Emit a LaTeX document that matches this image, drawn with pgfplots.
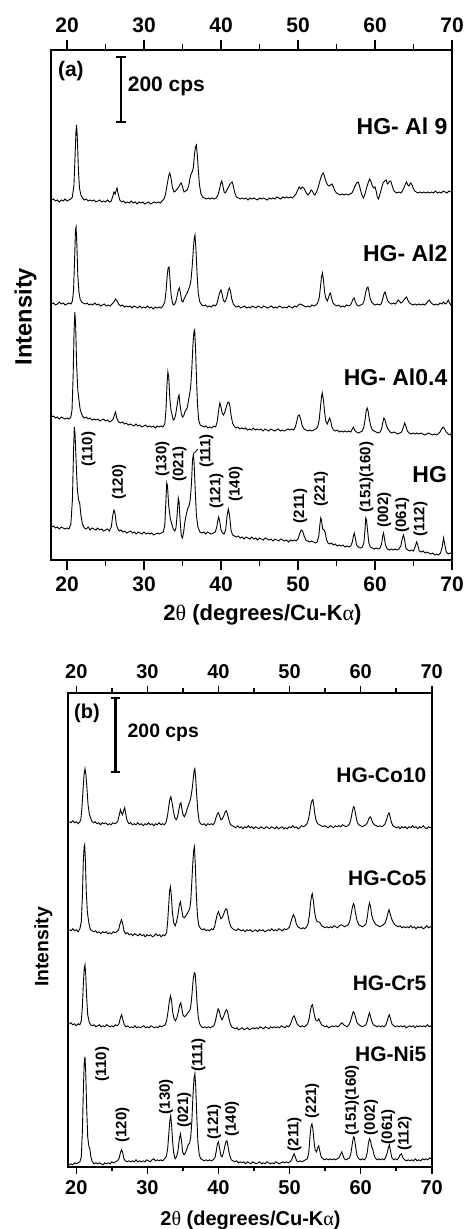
\documentclass[border=0pt]{standalone}
\usepackage{fontspec}
\setmainfont{Liberation Sans}
\newfontfamily\symfont{Liberation Serif}
\usepackage{pgfplots}
\pgfplotsset{compat=1.18}

\pgfplotsset{
  xrd/.style={black, line width=0.45pt, no markers},
  panel/.style={scale only axis, anchor=north west, xmax=70, ymin=0,
    xtick={20,30,...,70}, minor x tick num=1, ytick=\empty,
    tick align=outside, axis line style={line width=0.9pt},
    every tick/.style={black, line width=0.8pt},
    /pgf/number format/assume math mode=true},
  panelA/.style={panel, at={(25.5pt,-25pt)}, width=200.5pt, height=255pt,
    xmin=17.92, ymax=510, major tick length=5pt, minor tick length=3pt,
    tick label style={font=\fontsize{10.5}{12}\selectfont\bfseries}},
  panelB/.style={panel, at={(34.15pt,-346.35pt)}, width=181.7pt, height=237pt,
    xmin=18.87, ymax=474, major tick length=3.4pt, minor tick length=2.2pt,
    tick label style={font=\fontsize{10}{12}\selectfont\bfseries}},
  toponly/.style={axis x line*=top, axis y line=none, xticklabel pos=upper},
}
\tikzset{
  hklA/.style={rotate=90, font=\fontsize{7.5}{9}\selectfont\bfseries, inner sep=0pt},
  nameA/.style={anchor=base east, font=\fontsize{11.5}{13}\selectfont\bfseries, inner sep=0pt},
  nameB/.style={anchor=base east, font=\fontsize{10.5}{12}\selectfont\bfseries, inner sep=0pt},
}

\begin{document}
\begin{tikzpicture}
\useasboundingbox (0pt,0pt) rectangle (233pt,-614.5pt);

% ---------------- panel (a) ----------------
\begin{axis}[panelA, xticklabel pos=lower]
% HG
\addplot[xrd] coordinates {
(18.0,33)(18.25,34)(18.5,32)(18.75,33)(19.0,31)(19.25,33)(19.5,32)(19.75,31)(20.0,32)(20.25,31)(20.5,36)(20.7,60)(20.85,110)(20.95,133)(21.05,125)(21.2,95)(21.35,70)(21.5,60)(21.65,57)(21.8,45)(22.0,36)(22.25,32)(22.5,31)(22.75,33)(23.0,30)(23.25,32)(23.5,31)(23.75,30)(24.0,32)(24.25,30)(24.5,31)(24.75,29)(25.0,30)(25.25,31)(25.5,29)(25.75,33)(25.95,45)(26.1,50)(26.25,46)(26.4,36)(26.6,31)(26.8,29)(27.0,30)(27.25,28)(27.5,29)(27.75,27)(28.0,28)(28.25,29)(28.5,27)(28.75,28)(29.0,26)(29.25,28)(29.5,27)(29.75,26)(30.0,28)(30.25,26)(30.5,27)(30.75,26)(31.0,27)(31.25,25)(31.5,26)(31.75,27)(32.0,26)(32.25,27)(32.5,28)(32.7,35)(32.85,60)(32.95,77)(33.05,74)(33.2,55)(33.4,42)(33.6,36)(33.8,31)(34.0,29)(34.15,32)(34.3,45)(34.45,62)(34.55,58)(34.7,38)(34.85,24)(35.0,22)(35.15,28)(35.3,38)(35.5,46)(35.7,52)(35.85,54)(36.0,60)(36.15,75)(36.3,100)(36.4,105)(36.5,98)(36.65,70)(36.8,45)(37.0,33)(37.25,28)(37.5,27)(37.75,28)(38.0,26)(38.25,28)(38.5,27)(38.75,26)(39.0,27)(39.25,28)(39.45,33)(39.6,40)(39.7,43)(39.85,38)(40.0,30)(40.2,27)(40.4,26)(40.6,30)(40.8,45)(40.95,51)(41.1,45)(41.3,30)(41.5,25)(41.75,24)(42.0,23)(42.25,24)(42.5,22)(42.75,23)(43.0,21)(43.25,23)(43.5,22)(43.75,21)(44.0,23)(44.25,21)(44.5,22)(44.75,20)(45.0,22)(45.25,21)(45.5,20)(45.75,22)(46.0,21)(46.25,20)(46.5,21)(46.75,19)(47.0,21)(47.25,20)(47.5,19)(47.75,21)(48.0,20)(48.25,19)(48.5,20)(48.75,18)(49.0,20)(49.25,19)(49.5,20)(49.75,19)(50.0,21)(50.2,26)(50.4,30)(50.6,29)(50.8,24)(51.0,20)(51.25,19)(51.5,18)(51.75,19)(52.0,18)(52.25,17)(52.5,18)(52.7,24)(52.85,36)(52.95,42)(53.05,40)(53.2,31)(53.4,30)(53.55,27)(53.7,20)(53.9,17)(54.1,16)(54.35,17)(54.6,15)(54.85,16)(55.1,14)(55.35,15)(55.6,14)(55.85,15)(56.1,13)(56.35,14)(56.6,13)(56.85,14)(57.05,18)(57.2,24)(57.3,27)(57.45,22)(57.6,15)(57.85,13)(58.1,12)(58.35,13)(58.55,17)(58.7,30)(58.8,42)(58.9,40)(59.05,28)(59.2,17)(59.4,13)(59.65,12)(59.9,11)(60.15,12)(60.4,11)(60.65,12)(60.85,16)(61.0,24)(61.1,27)(61.2,23)(61.35,15)(61.6,11)(61.85,10)(62.1,11)(62.35,10)(62.6,11)(62.85,10)(63.1,11)(63.35,14)(63.55,22)(63.7,25)(63.85,20)(64.0,12)(64.25,10)(64.5,9)(64.75,10)(65.0,9)(65.2,13)(65.4,18)(65.55,15)(65.75,9)(66.0,8)(66.25,9)(66.5,7)(66.75,8)(67.0,7)(67.25,6)(67.5,7)(67.75,5)(68.0,6)(68.25,5)(68.5,7)(68.7,12)(68.9,22)(69.05,16)(69.25,8)(69.5,6)(69.75,7)(70.0,6)
};
% HG-Al0.4
\addplot[xrd] coordinates {
(18.0,143)(18.25,144)(18.5,142)(18.75,143)(19.0,141)(19.25,143)(19.5,142)(19.75,141)(20.0,142)(20.25,141)(20.5,143)(20.65,150)(20.8,185)(20.92,230)(21.02,248)(21.12,235)(21.25,195)(21.4,170)(21.55,160)(21.7,151)(21.85,147)(22.0,144)(22.25,142)(22.5,143)(22.75,141)(23.0,142)(23.25,140)(23.5,141)(23.75,140)(24.0,141)(24.25,139)(24.5,140)(24.75,141)(25.0,139)(25.25,140)(25.5,138)(25.75,139)(26.0,141)(26.15,145)(26.3,148)(26.45,142)(26.7,138)(26.95,137)(27.2,138)(27.45,136)(27.7,137)(27.95,135)(28.2,136)(28.45,135)(28.7,134)(28.95,136)(29.2,134)(29.45,135)(29.7,133)(29.95,134)(30.2,135)(30.45,133)(30.7,134)(30.95,133)(31.2,134)(31.45,132)(31.7,134)(31.95,133)(32.2,134)(32.45,133)(32.7,136)(32.85,150)(32.98,175)(33.1,188)(33.22,182)(33.35,162)(33.5,150)(33.65,145)(33.8,140)(33.95,141)(34.1,145)(34.3,155)(34.45,163)(34.55,165)(34.68,155)(34.85,146)(35.0,143)(35.15,144)(35.3,148)(35.45,150)(35.6,152)(35.75,158)(35.9,165)(36.05,172)(36.2,190)(36.35,215)(36.48,228)(36.58,230)(36.7,210)(36.82,180)(36.95,155)(37.1,140)(37.3,135)(37.55,134)(37.8,133)(38.05,134)(38.3,132)(38.55,133)(38.8,132)(39.05,134)(39.3,133)(39.5,138)(39.7,150)(39.85,157)(40.0,153)(40.15,147)(40.3,145)(40.45,147)(40.65,152)(40.85,157)(41.0,158)(41.15,154)(41.3,145)(41.5,137)(41.7,134)(41.95,132)(42.2,133)(42.45,131)(42.7,132)(42.95,131)(43.2,132)(43.45,130)(43.7,131)(43.95,130)(44.2,132)(44.45,130)(44.7,131)(44.95,130)(45.2,131)(45.45,129)(45.7,131)(45.95,130)(46.2,129)(46.45,131)(46.7,130)(46.95,129)(47.2,130)(47.45,131)(47.7,129)(47.95,130)(48.2,129)(48.45,130)(48.7,131)(48.95,130)(49.2,131)(49.45,130)(49.65,133)(49.85,139)(50.0,144)(50.15,145)(50.35,141)(50.55,134)(50.8,131)(51.05,130)(51.3,129)(51.55,130)(51.8,129)(52.05,130)(52.3,131)(52.55,133)(52.75,140)(52.9,152)(53.05,163)(53.15,167)(53.3,160)(53.45,148)(53.6,139)(53.8,136)(53.95,139)(54.1,142)(54.25,139)(54.4,133)(54.6,130)(54.85,129)(55.1,130)(55.35,128)(55.6,129)(55.85,128)(56.1,129)(56.35,128)(56.6,129)(56.85,128)(57.05,131)(57.2,133)(57.35,130)(57.6,128)(57.85,127)(58.1,128)(58.35,129)(58.55,133)(58.7,140)(58.85,149)(58.98,152)(59.1,149)(59.25,141)(59.45,134)(59.65,130)(59.9,129)(60.15,128)(60.4,127)(60.65,128)(60.85,131)(61.0,137)(61.15,142)(61.3,140)(61.5,134)(61.7,131)(61.95,128)(62.2,127)(62.45,128)(62.7,127)(62.95,126)(63.2,127)(63.45,128)(63.65,132)(63.85,137)(64.0,134)(64.2,129)(64.45,127)(64.7,126)(64.95,127)(65.2,126)(65.45,127)(65.7,126)(65.95,127)(66.2,126)(66.45,125)(66.7,126)(66.95,127)(67.2,126)(67.45,125)(67.7,126)(67.95,125)(68.2,126)(68.45,128)(68.65,131)(68.85,133)(69.05,131)(69.25,128)(69.5,126)(69.75,125)(70.0,127)
};
% HG-Al2
\addplot[xrd] coordinates {
(18.0,256)(18.25,257)(18.5,255)(18.75,256)(19.0,258)(19.25,256)(19.5,257)(19.75,255)(20.0,256)(20.25,257)(20.5,256)(20.7,259)(20.85,270)(20.98,300)(21.1,330)(21.18,333)(21.28,315)(21.4,285)(21.55,268)(21.7,261)(21.9,258)(22.1,257)(22.35,256)(22.6,257)(22.85,255)(23.1,256)(23.35,255)(23.6,257)(23.85,255)(24.1,256)(24.35,254)(24.6,255)(24.85,256)(25.1,254)(25.35,255)(25.6,254)(25.85,256)(26.1,258)(26.3,261)(26.5,259)(26.7,256)(26.95,254)(27.2,255)(27.45,253)(27.7,254)(27.95,253)(28.2,254)(28.45,252)(28.7,254)(28.95,253)(29.2,252)(29.45,254)(29.7,252)(29.95,253)(30.2,252)(30.45,254)(30.7,252)(30.95,253)(31.2,251)(31.45,253)(31.7,252)(31.95,253)(32.2,252)(32.45,254)(32.7,258)(32.85,268)(33.0,283)(33.12,292)(33.25,293)(33.38,280)(33.52,265)(33.7,257)(33.85,255)(34.0,256)(34.15,259)(34.3,264)(34.45,270)(34.6,272)(34.75,266)(34.9,259)(35.05,258)(35.2,261)(35.4,264)(35.6,267)(35.8,271)(35.95,274)(36.1,280)(36.25,293)(36.4,310)(36.52,322)(36.62,325)(36.75,310)(36.9,285)(37.05,266)(37.25,258)(37.5,255)(37.75,254)(38.0,255)(38.25,253)(38.5,254)(38.75,253)(39.0,255)(39.25,254)(39.45,256)(39.65,262)(39.85,268)(40.0,270)(40.15,266)(40.3,260)(40.45,258)(40.6,259)(40.8,264)(40.95,270)(41.1,272)(41.25,268)(41.4,261)(41.6,256)(41.8,254)(42.05,253)(42.3,254)(42.55,252)(42.8,253)(43.05,254)(43.3,252)(43.55,253)(43.8,252)(44.05,254)(44.3,253)(44.55,252)(44.8,254)(45.05,253)(45.3,252)(45.55,254)(45.8,253)(46.05,252)(46.3,253)(46.55,254)(46.8,252)(47.05,253)(47.3,252)(47.55,254)(47.8,253)(48.05,252)(48.3,253)(48.55,252)(48.8,254)(49.05,253)(49.3,252)(49.55,254)(49.8,253)(50.05,255)(50.3,256)(50.55,255)(50.8,254)(51.05,253)(51.3,254)(51.55,253)(51.8,255)(52.05,254)(52.3,255)(52.55,257)(52.75,262)(52.9,272)(53.05,283)(53.18,287)(53.3,280)(53.45,268)(53.6,262)(53.8,259)(53.95,262)(54.1,266)(54.22,267)(54.35,262)(54.55,257)(54.8,255)(55.05,254)(55.3,255)(55.55,253)(55.8,254)(56.05,253)(56.3,255)(56.55,254)(56.8,255)(57.0,258)(57.15,261)(57.3,262)(57.45,258)(57.65,255)(57.9,254)(58.15,255)(58.4,256)(58.6,260)(58.8,268)(58.95,272)(59.08,273)(59.2,269)(59.35,262)(59.55,258)(59.8,256)(60.05,255)(60.3,256)(60.55,255)(60.8,256)(61.0,261)(61.15,266)(61.3,268)(61.45,264)(61.65,259)(61.9,257)(62.15,256)(62.4,257)(62.65,256)(62.85,258)(63.0,260)(63.15,259)(63.35,257)(63.55,258)(63.75,260)(63.95,262)(64.1,263)(64.25,260)(64.45,257)(64.7,256)(64.95,255)(65.2,256)(65.45,255)(65.7,256)(65.95,255)(66.2,256)(66.45,255)(66.7,257)(66.9,259)(67.05,260)(67.2,258)(67.45,256)(67.7,255)(67.95,256)(68.2,255)(68.45,257)(68.7,256)(68.9,258)(69.1,256)(69.3,257)(69.5,260)(69.7,257)(69.85,255)(70.0,257)
};
% HG-Al 9
\addplot[xrd] coordinates {
(18.0,360)(18.25,361)(18.5,359)(18.75,360)(19.0,358)(19.25,360)(19.5,359)(19.75,361)(20.0,359)(20.25,360)(20.5,361)(20.7,363)(20.9,375)(21.05,405)(21.17,430)(21.25,435)(21.35,420)(21.48,390)(21.62,372)(21.8,365)(22.0,362)(22.25,360)(22.5,361)(22.75,359)(23.0,360)(23.25,359)(23.5,360)(23.75,358)(24.0,359)(24.25,360)(24.5,358)(24.75,359)(25.0,358)(25.25,360)(25.5,358)(25.75,359)(25.95,364)(26.1,368)(26.25,366)(26.4,370)(26.5,372)(26.65,366)(26.85,360)(27.1,358)(27.35,359)(27.6,357)(27.85,358)(28.1,357)(28.35,359)(28.6,357)(28.85,358)(29.1,356)(29.35,358)(29.6,357)(29.85,358)(30.1,356)(30.35,357)(30.6,358)(30.85,356)(31.1,357)(31.35,358)(31.6,357)(31.85,358)(32.1,357)(32.35,359)(32.6,361)(32.8,366)(33.0,375)(33.2,384)(33.35,387)(33.5,382)(33.7,372)(33.9,368)(34.1,369)(34.3,371)(34.5,373)(34.7,376)(34.85,377)(35.0,373)(35.2,368)(35.4,369)(35.6,370)(35.8,374)(35.95,381)(36.1,386)(36.25,388)(36.4,392)(36.55,405)(36.68,413)(36.8,415)(36.92,405)(37.05,390)(37.2,375)(37.4,366)(37.6,363)(37.85,362)(38.1,361)(38.35,362)(38.6,361)(38.85,362)(39.1,361)(39.35,362)(39.55,364)(39.75,369)(39.95,376)(40.1,379)(40.25,374)(40.4,368)(40.55,367)(40.7,369)(40.9,372)(41.1,375)(41.3,377)(41.45,378)(41.6,374)(41.8,367)(42.0,363)(42.25,362)(42.5,361)(42.75,362)(43.0,361)(43.25,362)(43.5,360)(43.75,362)(44.0,361)(44.25,362)(44.5,361)(44.75,360)(45.0,362)(45.25,361)(45.5,362)(45.75,361)(46.0,360)(46.25,362)(46.5,361)(46.75,362)(47.0,361)(47.25,363)(47.5,362)(47.75,361)(48.0,363)(48.25,362)(48.5,363)(48.75,362)(49.0,363)(49.25,362)(49.5,364)(49.75,366)(49.95,370)(50.15,373)(50.35,371)(50.55,373)(50.75,372)(50.95,369)(51.15,366)(51.3,365)(51.5,367)(51.7,370)(51.85,369)(52.05,366)(52.2,365)(52.4,368)(52.6,372)(52.8,378)(53.0,383)(53.15,386)(53.3,387)(53.45,383)(53.65,378)(53.85,375)(54.0,374)(54.2,375)(54.4,376)(54.6,373)(54.8,369)(55.0,367)(55.25,366)(55.5,365)(55.75,366)(56.0,365)(56.25,366)(56.5,365)(56.75,366)(57.0,367)(57.2,370)(57.4,374)(57.6,377)(57.8,378)(57.95,375)(58.15,369)(58.35,364)(58.5,362)(58.7,366)(58.9,372)(59.1,377)(59.3,381)(59.45,379)(59.65,374)(59.85,372)(60.0,373)(60.15,369)(60.3,363)(60.45,361)(60.65,366)(60.85,372)(61.05,377)(61.25,379)(61.45,380)(61.6,376)(61.75,377)(61.9,379)(62.05,379)(62.2,375)(62.4,370)(62.6,368)(62.85,367)(63.1,368)(63.35,367)(63.55,369)(63.75,372)(63.95,376)(64.1,378)(64.25,375)(64.4,374)(64.6,377)(64.75,376)(64.95,372)(65.15,369)(65.35,368)(65.6,367)(65.85,368)(66.1,367)(66.35,368)(66.6,367)(66.85,368)(67.1,367)(67.35,368)(67.6,367)(67.85,369)(68.1,367)(68.35,368)(68.6,367)(68.85,369)(69.1,368)(69.35,367)(69.6,369)(69.85,368)(70.0,368)
};
% scale bar
\draw[line width=1.4pt] (axis cs:27.0,438) -- (axis cs:27.0,503);
\draw[line width=1pt] (axis cs:26.4,503) -- (axis cs:27.6,503);
\draw[line width=1pt] (axis cs:26.4,438) -- (axis cs:27.6,438);
\node[anchor=west, inner sep=0pt, font=\fontsize{10.5}{12}\selectfont\bfseries] at (axis cs:27.85,474) {200 cps};
\node[font=\fontsize{10.5}{12}\selectfont\bfseries] at (axis cs:20.5,489) {(a)};
% sample names
\node[nameA] at (axis cs:69.45,425) {HG- Al 9};
\node[nameA] at (axis cs:69.45,298) {HG- Al2};
\node[nameA] at (axis cs:69.45,175) {HG- Al0.4};
\node[nameA] at (axis cs:69.4,78) {HG};
% Miller indices
\node[hklA] at (axis cs:22.8,111) {(110)};
\node[hklA] at (axis cs:26.75,78) {(120)};
\node[hklA] at (axis cs:32.4,101) {(130)};
\node[hklA] at (axis cs:34.6,96) {(021)};
\node[hklA] at (axis cs:38.1,109) {(111)};
\node[hklA] at (axis cs:39.4,69) {(121)};
\node[hklA] at (axis cs:41.9,76) {(140)};
\node[hklA] at (axis cs:50.3,54) {(211)};
\node[hklA] at (axis cs:53.0,71) {(221)};
\node[hklA] at (axis cs:58.9,83) {(151)(160)};
\node[hklA] at (axis cs:61.2,50) {(002)};
\node[hklA] at (axis cs:63.55,45) {(061)};
\node[hklA] at (axis cs:65.9,41) {(112)};
\draw[line width=0.4pt] (axis cs:36.55,107) -- (axis cs:37.0,111);
\end{axis}
\begin{axis}[panelA, toponly]
\end{axis}

% ---------------- panel (b) ----------------
\begin{axis}[panelB, xticklabel pos=lower]
% HG-Ni5
\addplot[xrd] coordinates {
(19.0,2)(19.25,3)(19.5,2)(19.75,4)(20.0,3)(20.25,4)(20.5,5)(20.7,10)(20.85,35)(21.0,80)(21.12,105)(21.22,110)(21.32,95)(21.45,60)(21.6,30)(21.75,21)(21.9,18)(22.05,10)(22.25,5)(22.5,3)(22.75,4)(23.0,3)(23.25,4)(23.5,3)(23.75,2)(24.0,4)(24.25,3)(24.5,4)(24.75,3)(25.0,5)(25.25,4)(25.5,5)(25.75,6)(26.0,8)(26.2,14)(26.35,17)(26.5,15)(26.7,8)(26.9,6)(27.15,5)(27.4,6)(27.65,5)(27.9,6)(28.15,5)(28.4,7)(28.65,5)(28.9,6)(29.15,5)(29.4,6)(29.65,5)(29.9,7)(30.15,6)(30.4,5)(30.65,7)(30.9,8)(31.15,6)(31.4,7)(31.65,6)(31.9,7)(32.15,6)(32.4,8)(32.65,10)(32.85,18)(33.0,32)(33.15,46)(33.28,51)(33.4,42)(33.55,25)(33.7,14)(33.9,8)(34.1,10)(34.3,16)(34.5,28)(34.65,33)(34.8,26)(34.95,15)(35.15,12)(35.35,14)(35.55,18)(35.75,22)(35.95,24)(36.1,30)(36.25,45)(36.4,70)(36.55,88)(36.68,93)(36.8,80)(36.95,50)(37.1,25)(37.3,12)(37.5,8)(37.75,7)(38.0,6)(38.25,7)(38.5,6)(38.75,7)(39.0,6)(39.25,7)(39.5,9)(39.7,16)(39.85,23)(40.0,25)(40.15,19)(40.35,11)(40.5,10)(40.7,14)(40.9,21)(41.05,25)(41.2,26)(41.35,20)(41.55,12)(41.8,7)(42.05,6)(42.3,5)(42.55,6)(42.8,4)(43.05,5)(43.3,4)(43.55,5)(43.8,3)(44.05,5)(44.3,4)(44.55,3)(44.8,5)(45.05,4)(45.3,3)(45.55,4)(45.8,5)(46.05,3)(46.3,4)(46.55,3)(46.8,5)(47.05,4)(47.3,3)(47.55,4)(47.8,3)(48.05,5)(48.3,4)(48.55,3)(48.8,4)(49.05,5)(49.3,4)(49.55,5)(49.8,4)(50.05,5)(50.3,7)(50.5,11)(50.65,13)(50.8,10)(51.0,6)(51.25,5)(51.5,6)(51.75,5)(52.0,6)(52.25,7)(52.5,8)(52.7,14)(52.85,28)(53.0,40)(53.15,43)(53.3,37)(53.45,25)(53.6,17)(53.8,15)(53.95,19)(54.1,21)(54.25,16)(54.45,10)(54.7,8)(54.95,7)(55.2,8)(55.45,7)(55.7,8)(55.95,7)(56.2,8)(56.45,7)(56.7,8)(56.95,9)(57.15,12)(57.35,15)(57.5,12)(57.7,8)(57.95,7)(58.2,8)(58.45,9)(58.65,14)(58.85,24)(59.0,30)(59.12,29)(59.3,20)(59.5,11)(59.75,8)(60.0,7)(60.25,8)(60.5,7)(60.75,9)(60.95,15)(61.1,24)(61.25,28)(61.4,26)(61.55,20)(61.7,18)(61.85,13)(62.05,9)(62.3,7)(62.55,8)(62.8,7)(63.05,8)(63.3,7)(63.5,9)(63.7,13)(63.9,19)(64.05,22)(64.2,16)(64.4,9)(64.65,7)(64.9,8)(65.15,7)(65.35,9)(65.55,12)(65.75,13)(65.95,9)(66.2,7)(66.45,6)(66.7,7)(66.95,6)(67.2,7)(67.45,6)(67.7,8)(67.95,6)(68.2,7)(68.45,6)(68.7,8)(68.95,7)(69.2,8)(69.45,7)(69.7,9)(70.0,8)
};
% HG-Cr5
\addplot[xrd] coordinates {
(19.0,143)(19.25,144)(19.5,142)(19.75,143)(20.0,141)(20.25,143)(20.5,142)(20.7,146)(20.85,160)(21.0,185)(21.12,199)(21.22,202)(21.32,192)(21.45,170)(21.6,152)(21.8,145)(22.0,142)(22.25,141)(22.5,142)(22.75,140)(23.0,141)(23.25,142)(23.5,140)(23.75,141)(24.0,140)(24.25,142)(24.5,141)(24.75,140)(25.0,141)(25.25,140)(25.5,142)(25.75,141)(26.0,143)(26.2,149)(26.38,152)(26.55,147)(26.75,142)(27.0,140)(27.25,141)(27.5,139)(27.75,140)(28.0,139)(28.25,141)(28.5,139)(28.75,140)(29.0,139)(29.25,140)(29.5,141)(29.75,139)(30.0,140)(30.25,139)(30.5,141)(30.75,140)(31.0,139)(31.25,140)(31.5,139)(31.75,141)(32.0,140)(32.25,141)(32.5,142)(32.7,146)(32.9,155)(33.1,166)(33.25,171)(33.4,166)(33.55,155)(33.75,148)(33.95,146)(34.15,149)(34.35,155)(34.55,162)(34.7,164)(34.85,158)(35.0,152)(35.2,150)(35.4,151)(35.6,153)(35.8,155)(36.0,157)(36.15,163)(36.3,175)(36.45,188)(36.6,194)(36.72,193)(36.85,180)(37.0,162)(37.15,150)(37.35,143)(37.6,140)(37.85,139)(38.1,140)(38.35,139)(38.6,140)(38.85,139)(39.1,140)(39.35,141)(39.55,145)(39.75,152)(39.95,158)(40.1,156)(40.3,150)(40.5,147)(40.7,150)(40.9,154)(41.1,157)(41.25,156)(41.45,149)(41.65,143)(41.85,140)(42.1,139)(42.35,138)(42.6,139)(42.85,137)(43.1,138)(43.35,139)(43.6,137)(43.85,138)(44.1,139)(44.35,137)(44.6,138)(44.85,139)(45.1,138)(45.35,139)(45.6,138)(45.85,140)(46.1,139)(46.35,138)(46.6,140)(46.85,139)(47.1,138)(47.35,140)(47.6,139)(47.85,140)(48.1,139)(48.35,140)(48.6,139)(48.85,141)(49.1,140)(49.35,139)(49.6,141)(49.85,140)(50.1,142)(50.3,146)(50.5,150)(50.65,151)(50.85,147)(51.05,143)(51.3,141)(51.55,140)(51.8,141)(52.05,140)(52.3,141)(52.55,143)(52.75,148)(52.95,157)(53.1,161)(53.22,162)(53.35,157)(53.55,150)(53.75,146)(53.95,146)(54.1,148)(54.3,145)(54.5,142)(54.75,141)(55.0,140)(55.25,141)(55.5,139)(55.75,140)(56.0,141)(56.25,140)(56.5,141)(56.75,140)(57.0,141)(57.2,143)(57.4,144)(57.6,142)(57.85,141)(58.1,140)(58.35,142)(58.55,145)(58.75,150)(58.95,155)(59.1,154)(59.3,149)(59.5,144)(59.75,142)(60.0,141)(60.25,140)(60.5,141)(60.75,142)(60.95,146)(61.1,151)(61.25,154)(61.4,150)(61.6,145)(61.8,142)(62.05,141)(62.3,140)(62.55,141)(62.8,140)(63.05,141)(63.3,140)(63.55,142)(63.75,146)(63.95,151)(64.05,152)(64.2,148)(64.4,143)(64.65,141)(64.9,140)(65.15,141)(65.4,140)(65.65,141)(65.9,140)(66.15,141)(66.4,139)(66.65,140)(66.9,141)(67.15,140)(67.4,141)(67.65,139)(67.9,141)(68.15,140)(68.4,141)(68.65,140)(68.9,141)(69.15,140)(69.4,142)(69.65,140)(69.9,141)(70.0,140)
};
% HG-Co5
\addplot[xrd] coordinates {
(19.0,237)(19.25,236)(19.5,238)(19.75,236)(20.0,237)(20.25,235)(20.5,238)(20.7,245)(20.85,270)(20.98,305)(21.1,320)(21.18,322)(21.28,305)(21.4,275)(21.55,255)(21.75,244)(21.95,238)(22.2,236)(22.45,235)(22.7,236)(22.95,234)(23.2,235)(23.45,233)(23.7,235)(23.95,234)(24.2,235)(24.45,233)(24.7,234)(24.95,233)(25.2,235)(25.45,234)(25.7,235)(25.95,237)(26.15,243)(26.35,247)(26.5,244)(26.7,236)(26.95,233)(27.2,234)(27.45,232)(27.7,233)(27.95,231)(28.2,233)(28.45,232)(28.7,231)(28.95,233)(29.2,231)(29.45,232)(29.7,230)(29.95,232)(30.2,231)(30.45,232)(30.7,230)(30.95,231)(31.2,233)(31.45,231)(31.7,232)(31.95,230)(32.2,232)(32.45,231)(32.7,234)(32.85,245)(33.0,262)(33.12,276)(33.25,280)(33.38,270)(33.52,254)(33.7,244)(33.9,241)(34.1,245)(34.3,252)(34.5,262)(34.65,265)(34.8,258)(35.0,250)(35.2,249)(35.4,251)(35.6,253)(35.8,256)(35.95,258)(36.1,266)(36.25,285)(36.4,305)(36.52,317)(36.62,320)(36.75,300)(36.9,270)(37.05,250)(37.25,241)(37.5,238)(37.75,237)(38.0,238)(38.25,236)(38.5,237)(38.75,236)(39.0,238)(39.25,237)(39.45,240)(39.65,247)(39.85,253)(40.0,255)(40.15,252)(40.35,248)(40.5,249)(40.7,252)(40.9,256)(41.05,258)(41.2,257)(41.35,251)(41.55,244)(41.75,240)(42.0,238)(42.25,237)(42.5,236)(42.75,238)(43.0,237)(43.25,236)(43.5,237)(43.75,235)(44.0,237)(44.25,236)(44.5,237)(44.75,235)(45.0,236)(45.25,237)(45.5,235)(45.75,237)(46.0,236)(46.25,237)(46.5,235)(46.75,236)(47.0,237)(47.25,236)(47.5,238)(47.75,236)(48.0,237)(48.25,236)(48.5,238)(48.75,237)(49.0,236)(49.25,238)(49.5,237)(49.75,238)(50.0,240)(50.2,245)(50.4,250)(50.55,252)(50.75,249)(50.95,243)(51.15,240)(51.4,239)(51.65,238)(51.9,239)(52.15,238)(52.4,240)(52.6,243)(52.8,252)(52.95,264)(53.1,271)(53.2,273)(53.35,266)(53.5,256)(53.7,248)(53.9,245)(54.1,245)(54.3,244)(54.5,241)(54.75,240)(55.0,239)(55.25,240)(55.5,239)(55.75,240)(56.0,239)(56.25,241)(56.5,240)(56.75,239)(57.0,241)(57.25,242)(57.5,241)(57.75,240)(58.0,241)(58.25,242)(58.45,245)(58.65,252)(58.85,260)(59.0,263)(59.12,261)(59.3,253)(59.5,246)(59.75,242)(60.0,241)(60.25,240)(60.5,241)(60.75,243)(60.95,250)(61.1,259)(61.25,264)(61.4,260)(61.55,252)(61.75,247)(61.95,244)(62.2,242)(62.45,241)(62.7,240)(62.95,241)(63.2,242)(63.45,244)(63.65,248)(63.85,254)(64.0,257)(64.15,253)(64.35,248)(64.55,245)(64.8,242)(65.05,241)(65.3,240)(65.55,241)(65.8,239)(66.05,240)(66.3,239)(66.55,240)(66.8,239)(67.05,241)(67.3,239)(67.55,240)(67.8,238)(68.05,240)(68.3,239)(68.55,240)(68.8,238)(69.05,239)(69.3,241)(69.55,239)(69.8,240)(70.0,239)
};
% HG-Co10
\addplot[xrd] coordinates {
(19.0,345)(19.25,344)(19.5,346)(19.75,344)(20.0,345)(20.25,343)(20.5,345)(20.65,348)(20.8,360)(20.95,378)(21.1,393)(21.22,398)(21.35,392)(21.5,378)(21.65,362)(21.8,354)(21.95,350)(22.15,346)(22.4,344)(22.65,345)(22.9,343)(23.15,344)(23.4,342)(23.65,344)(23.9,343)(24.15,344)(24.4,342)(24.65,343)(24.9,342)(25.15,344)(25.4,343)(25.65,344)(25.85,346)(26.05,352)(26.2,357)(26.35,354)(26.5,352)(26.65,356)(26.8,359)(26.95,353)(27.15,346)(27.4,343)(27.65,344)(27.9,342)(28.15,343)(28.4,342)(28.65,344)(28.9,342)(29.15,343)(29.4,341)(29.65,343)(29.9,342)(30.15,344)(30.4,342)(30.65,343)(30.9,341)(31.15,343)(31.4,342)(31.65,344)(31.9,342)(32.15,343)(32.4,342)(32.65,345)(32.85,352)(33.0,360)(33.15,367)(33.3,370)(33.45,365)(33.65,356)(33.85,349)(34.05,347)(34.25,350)(34.45,358)(34.6,363)(34.72,364)(34.85,358)(35.0,352)(35.2,350)(35.4,353)(35.6,358)(35.8,362)(36.0,366)(36.15,371)(36.3,378)(36.45,388)(36.57,396)(36.68,398)(36.8,388)(36.95,370)(37.1,355)(37.3,345)(37.5,343)(37.75,342)(38.0,343)(38.25,341)(38.5,343)(38.75,342)(39.0,343)(39.25,342)(39.45,344)(39.65,349)(39.85,353)(40.0,354)(40.15,351)(40.35,347)(40.55,348)(40.75,351)(40.95,355)(41.1,356)(41.3,352)(41.5,346)(41.7,342)(41.95,341)(42.2,340)(42.45,339)(42.7,341)(42.95,339)(43.2,340)(43.45,338)(43.7,340)(43.95,339)(44.2,341)(44.45,339)(44.7,340)(44.95,338)(45.2,340)(45.45,339)(45.7,338)(45.95,340)(46.2,339)(46.45,338)(46.7,340)(46.95,339)(47.2,338)(47.45,340)(47.7,339)(47.95,338)(48.2,340)(48.45,338)(48.7,339)(48.95,340)(49.2,338)(49.45,339)(49.7,338)(49.95,340)(50.2,339)(50.45,341)(50.7,339)(50.95,340)(51.2,338)(51.45,339)(51.7,341)(51.95,340)(52.2,341)(52.45,343)(52.65,347)(52.85,355)(53.0,362)(53.15,366)(53.28,367)(53.4,362)(53.55,353)(53.75,346)(53.95,343)(54.2,342)(54.45,341)(54.7,340)(54.95,341)(55.2,340)(55.45,339)(55.7,341)(55.95,340)(56.2,339)(56.45,341)(56.7,340)(56.95,341)(57.2,340)(57.45,342)(57.7,341)(57.95,340)(58.2,341)(58.45,343)(58.65,348)(58.85,356)(59.0,360)(59.12,359)(59.3,352)(59.5,345)(59.75,342)(60.0,341)(60.25,340)(60.5,341)(60.75,342)(60.95,344)(61.15,348)(61.35,350)(61.5,348)(61.7,344)(61.95,342)(62.2,341)(62.45,340)(62.7,341)(62.95,340)(63.2,341)(63.45,343)(63.65,347)(63.85,352)(64.0,354)(64.15,350)(64.35,344)(64.55,341)(64.8,340)(65.05,339)(65.3,340)(65.55,338)(65.8,340)(66.05,339)(66.3,340)(66.55,338)(66.8,340)(67.05,339)(67.3,341)(67.55,339)(67.8,340)(68.05,338)(68.3,340)(68.55,339)(68.8,341)(69.05,339)(69.3,338)(69.55,340)(69.8,339)(70.0,340)
};
% scale bar
\draw[line width=1.4pt] (axis cs:25.54,395) -- (axis cs:25.54,468.4);
\draw[line width=1pt] (axis cs:24.9,468.4) -- (axis cs:26.2,468.4);
\draw[line width=1pt] (axis cs:24.9,395) -- (axis cs:26.2,395);
\node[anchor=west, inner sep=0pt, font=\fontsize{9.7}{12}\selectfont\bfseries] at (axis cs:27.17,434.4) {200 cps};
\node[font=\fontsize{10}{12}\selectfont\bfseries] at (axis cs:21.5,453.7) {(b)};
% sample names
\node[nameB] at (axis cs:69.3,384) {HG-Co10};
\node[nameB] at (axis cs:69.3,281.7) {HG-Co5};
\node[nameB] at (axis cs:69.3,176) {HG-Cr5};
\node[nameB] at (axis cs:69.3,105) {HG-Ni5};
% Miller indices
\node[hklA] at (axis cs:23.66,102.7) {(110)};
\node[hklA] at (axis cs:26.5,41.7) {(120)};
\node[hklA] at (axis cs:32.6,70) {(130)};
\node[hklA] at (axis cs:35.2,56.7) {(021)};
\node[hklA] at (axis cs:37.2,111.7) {(111)};
\node[hklA] at (axis cs:39.4,45) {(121)};
\node[hklA] at (axis cs:41.9,47.7) {(140)};
\node[hklA] at (axis cs:50.7,32.7) {(211)};
\node[hklA] at (axis cs:53.2,66) {(221)};
\node[hklA] at (axis cs:58.8,66.7) {(151)(160)};
\node[hklA] at (axis cs:61.46,49.3) {(002)};
\node[hklA] at (axis cs:63.9,40) {(061)};
\node[hklA] at (axis cs:66.2,33.3) {(112)};
\end{axis}
\begin{axis}[panelB, toponly]
\end{axis}

% axis titles
\node[rotate=90, anchor=base, inner sep=0pt, font=\fontsize{11.8}{13}\selectfont\bfseries] at (15.85pt,-158.25pt) {Intensity};
\node[anchor=base, inner sep=0pt, font=\fontsize{11}{13}\selectfont\bfseries] at (131.25pt,-310pt) {2{\symfont\mdseries θ} (degrees/Cu-K{\symfont\mdseries α})};
\node[rotate=90, anchor=base, inner sep=0pt, font=\fontsize{9.7}{12}\selectfont\bfseries] at (24.15pt,-473.5pt) {Intensity};
\node[anchor=base, inner sep=0pt, font=\fontsize{10}{12}\selectfont\bfseries] at (125.25pt,-612.5pt) {2{\symfont\mdseries θ} (degrees/Cu-K{\symfont\mdseries α})};
\end{tikzpicture}
\end{document}
